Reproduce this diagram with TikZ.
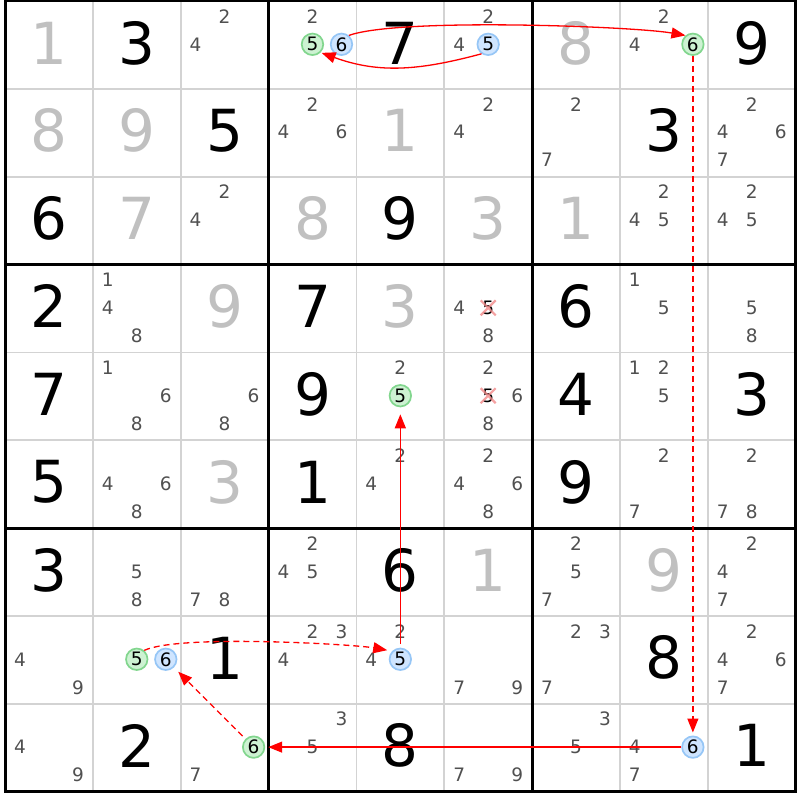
\documentclass[tikz,border=0pt]{standalone}
\usepackage{fontspec}
\setmainfont{DejaVu Sans}
\usetikzlibrary{arrows.meta}
\definecolor{givgrey}{HTML}{C0C0C0}
\definecolor{candgrey}{HTML}{505050}
\definecolor{thinline}{HTML}{D3D3D3}
\definecolor{gfill}{HTML}{CDF2D2}
\definecolor{gline}{HTML}{82D68E}
\definecolor{bfill}{HTML}{CFE5FF}
\definecolor{bline}{HTML}{96C6F6}
\definecolor{xpink}{HTML}{F28A8A}
\tikzset{
  bigdig/.style={inner sep=0pt, font=\fontsize{58}{58}\selectfont},
  gb/.style={bigdig, text=black},
  gg/.style={bigdig, text=givgrey},
  cand/.style={inner sep=0pt, font=\fontsize{18.5}{18.5}\selectfont, text=candgrey},
  gcand/.style={cand, text=black, circle, minimum size=21.5pt, fill=gfill, draw=gline, line width=1.7pt},
  bcand/.style={cand, text=black, circle, minimum size=21.5pt, fill=bfill, draw=bline, line width=1.7pt},
  link/.style={draw=red, line width=1.3pt, -{Triangle[length=14pt,width=11pt]}},
  strong/.style={link},
  weak/.style={link, dash pattern=on 6pt off 4pt},
}
\newcommand\gv[4]{\node[#4] (v#1#2) at ({5+87.85*(#2+0.5)},{801-87.85*(#1+0.5)}) {#3};}
\newcommand\cnd[4]{%
  \pgfmathsetmacro\mycx{5+87.85*(#2+0.5)+29*(mod(#3-1,3)-1)}%
  \pgfmathsetmacro\mycy{799-87.85*(#1+0.5)-28*(floor((#3-1)/3)-1)+0.6}%
  \node[#4] (k#1#2#3) at (\mycx,\mycy) {#3};}
\newcommand\cnds[3]{\foreach \dd in {#3} {\cnd{#1}{#2}{\dd}{cand}}}
\newcommand\xcnd[3]{%
  \pgfmathsetmacro\mycx{5+87.85*(#2+0.5)+29*(mod(#3-1,3)-1)}%
  \pgfmathsetmacro\mycy{799-87.85*(#1+0.5)-28*(floor((#3-1)/3)-1)+0.6}%
  \node[cand, text=black] (k#1#2#3) at (\mycx,\mycy) {#3};
  \draw[xpink, line width=2.2pt, opacity=0.8] ({\mycx-7.5},{\mycy-7.5}) -- ({\mycx+7.5},{\mycy+7.5})
    ({\mycx-7.5},{\mycy+7.5}) -- ({\mycx+7.5},{\mycy-7.5});}
\begin{document}
\begin{tikzpicture}[x=1pt,y=1pt]
\useasboundingbox (0,0) rectangle (800,800);
\fill[white] (0,0) rectangle (800,800);
% grid
\foreach \i in {1,2,4,5,7,8} {
  \draw[thinline, line width=1.7pt] ({5+87.85*\i},8.35) -- ({5+87.85*\i},799);
  \draw[thinline, line width=1.7pt] (5,{799-87.85*\i}) -- (795.65,{799-87.85*\i});
}
\foreach \i in {3,6} {
  \draw[black, line width=3pt] ({5+87.85*\i},8.35) -- ({5+87.85*\i},799);
  \draw[black, line width=3pt] (5,{799-87.85*\i}) -- (795.65,{799-87.85*\i});
}
\draw[black, line width=3pt] (5,8.35) rectangle (795.65,799);
% givens
\gv{0}{0}{1}{gg}\gv{0}{1}{3}{gb}\gv{0}{4}{7}{gb}\gv{0}{6}{8}{gg}\gv{0}{8}{9}{gb}
\gv{1}{0}{8}{gg}\gv{1}{1}{9}{gg}\gv{1}{2}{5}{gb}\gv{1}{4}{1}{gg}\gv{1}{7}{3}{gb}
\gv{2}{0}{6}{gb}\gv{2}{1}{7}{gg}\gv{2}{3}{8}{gg}\gv{2}{4}{9}{gb}\gv{2}{5}{3}{gg}\gv{2}{6}{1}{gg}
\gv{3}{0}{2}{gb}\gv{3}{2}{9}{gg}\gv{3}{3}{7}{gb}\gv{3}{4}{3}{gg}\gv{3}{6}{6}{gb}
\gv{4}{0}{7}{gb}\gv{4}{3}{9}{gb}\gv{4}{6}{4}{gb}\gv{4}{8}{3}{gb}
\gv{5}{0}{5}{gb}\gv{5}{2}{3}{gg}\gv{5}{3}{1}{gb}\gv{5}{6}{9}{gb}
\gv{6}{0}{3}{gb}\gv{6}{4}{6}{gb}\gv{6}{5}{1}{gg}\gv{6}{7}{9}{gg}
\gv{7}{2}{1}{gb}\gv{7}{7}{8}{gb}
\gv{8}{1}{2}{gb}\gv{8}{4}{8}{gb}\gv{8}{8}{1}{gb}
% candidates
\cnds{0}{2}{2,4}\cnds{0}{3}{2}\cnds{0}{5}{2,4}\cnds{0}{7}{2,4}
\cnds{1}{3}{2,4,6}\cnds{1}{5}{2,4}\cnds{1}{6}{2,7}\cnds{1}{8}{2,4,6,7}
\cnds{2}{2}{2,4}\cnds{2}{7}{2,4,5}\cnds{2}{8}{2,4,5}
\cnds{3}{1}{1,4,8}\cnds{3}{5}{4,8}\cnds{3}{7}{1,5}\cnds{3}{8}{5,8}
\cnds{4}{1}{1,6,8}\cnds{4}{2}{6,8}\cnds{4}{4}{2}\cnds{4}{5}{2,6,8}\cnds{4}{7}{1,2,5}
\cnds{5}{1}{4,6,8}\cnds{5}{4}{2,4}\cnds{5}{5}{2,4,6,8}\cnds{5}{7}{2,7}\cnds{5}{8}{2,7,8}
\cnds{6}{1}{5,8}\cnds{6}{2}{7,8}\cnds{6}{3}{2,4,5}\cnds{6}{6}{2,5,7}\cnds{6}{8}{2,4,7}
\cnds{7}{0}{4,9}\cnds{7}{3}{2,3,4}\cnds{7}{4}{2,4}\cnds{7}{5}{7,9}\cnds{7}{6}{2,3,7}\cnds{7}{8}{2,4,6,7}
\cnds{8}{0}{4,9}\cnds{8}{2}{7}\cnds{8}{3}{3,5}\cnds{8}{5}{7,9}\cnds{8}{6}{3,5}\cnds{8}{7}{4,7}
% highlighted candidates
\cnd{0}{3}{5}{gcand}\cnd{0}{7}{6}{gcand}\cnd{4}{4}{5}{gcand}\cnd{7}{1}{5}{gcand}\cnd{8}{2}{6}{gcand}
\cnd{0}{3}{6}{bcand}\cnd{0}{5}{5}{bcand}\cnd{7}{1}{6}{bcand}\cnd{7}{4}{5}{bcand}\cnd{8}{7}{6}{bcand}
\xcnd{3}{5}{5}\xcnd{4}{5}{5}
% links
\draw[strong, shorten >=1pt] (k055.235) to[out=195,in=-20] (k035.-45);
\draw[strong] (k036.50) to[out=20,in=170,looseness=0.4] (k076.130);
\draw[weak, shorten >=3pt] (k076) -- (k876);
\draw[strong, shorten >=3pt] (k876) -- (k826);
\draw[weak, shorten <=4pt, shorten >=6pt] (k826) -- (k716);
\draw[weak, shorten >=5pt] (k715.50) to[out=25,in=170,looseness=0.4] (k745.135);
\draw[strong, shorten <=4pt, shorten >=7pt] (k745) -- (k445);
\end{tikzpicture}
\end{document}
